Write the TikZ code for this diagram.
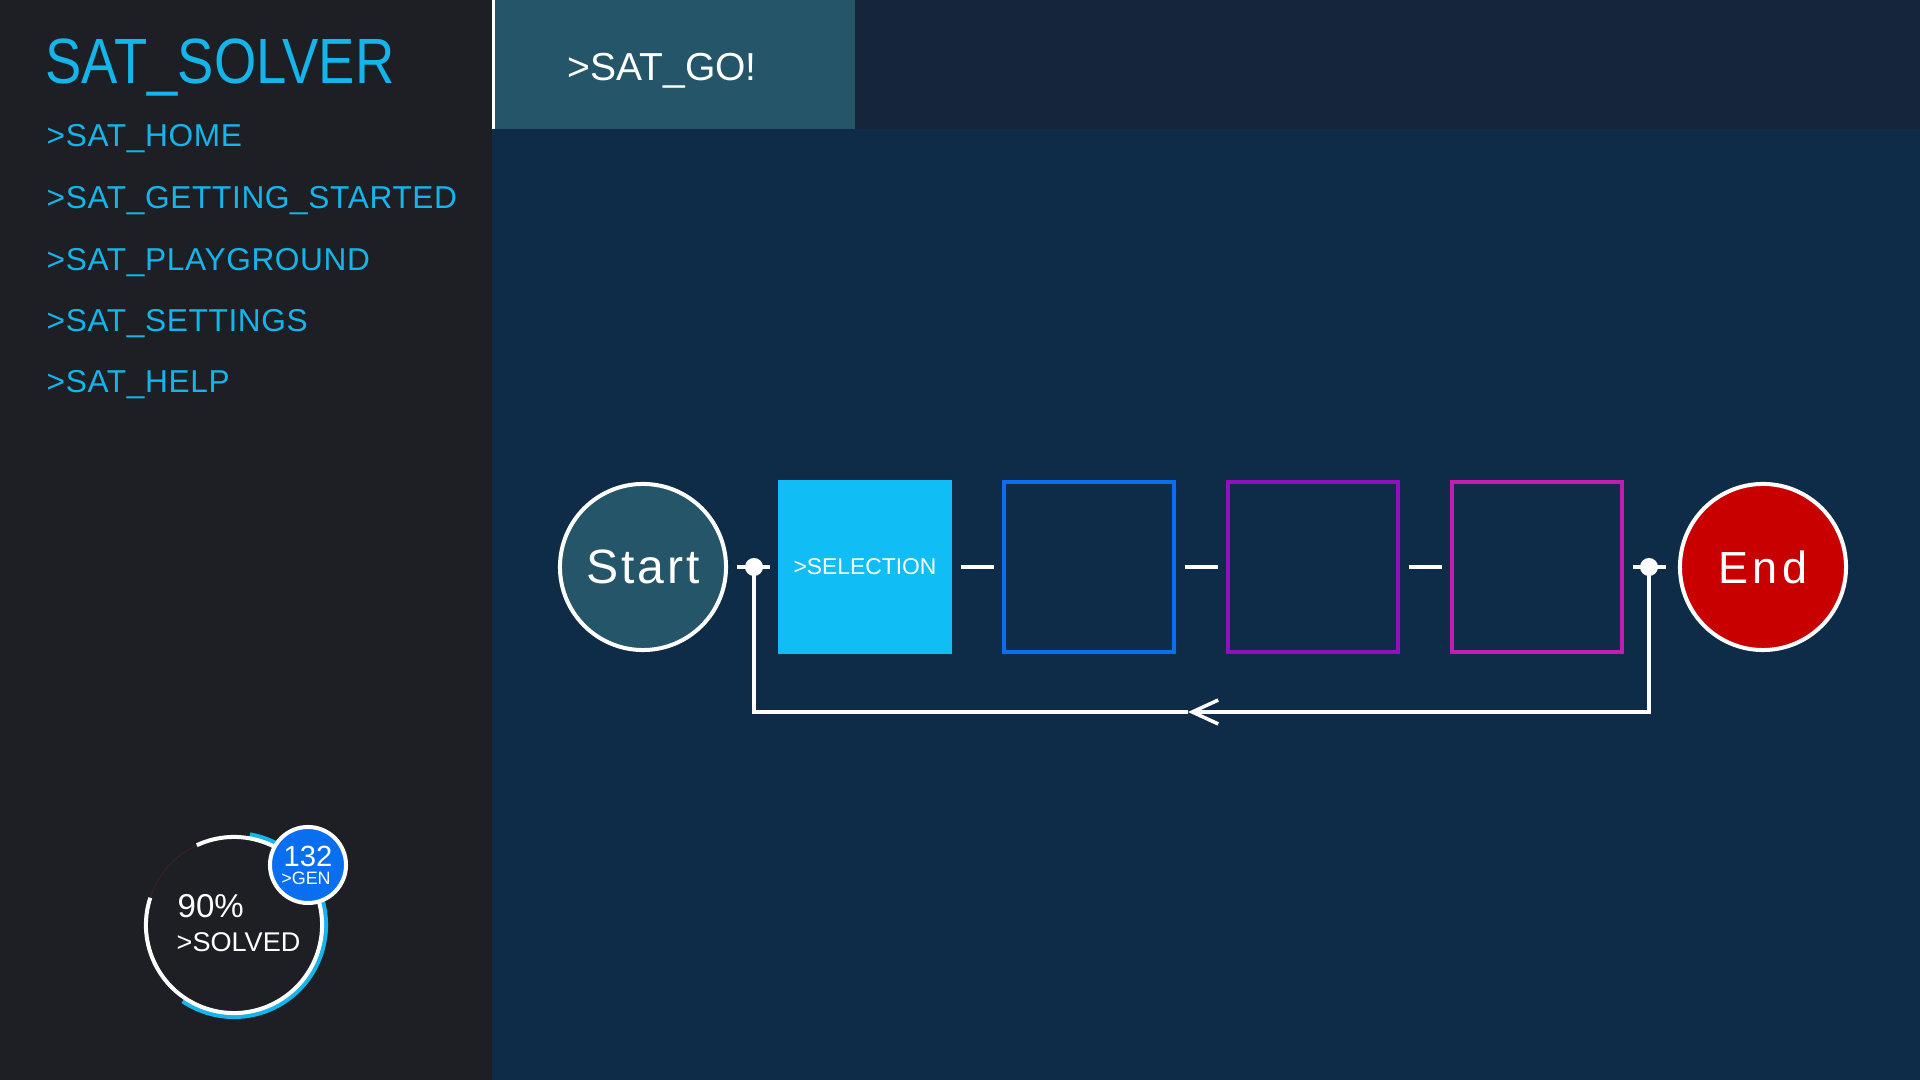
\documentclass[tikz,border=0pt]{standalone}
\usepackage{fontspec}
\setmainfont{Liberation Sans}
\usetikzlibrary{arrows.meta}
\definecolor{panel}{HTML}{1E1F24}
\definecolor{topbar}{HTML}{15263A}
\definecolor{tabfill}{HTML}{255569}
\definecolor{canvas}{HTML}{0E2C48}
\definecolor{satcyan}{HTML}{13B5EA}
\definecolor{selfill}{HTML}{10BDF5}
\definecolor{genblue}{HTML}{0A6EF0}
\definecolor{mutpurple}{HTML}{9010C0}
\definecolor{repmagenta}{HTML}{C21CB0}
\definecolor{endred}{HTML}{C80000}
\definecolor{gapline}{HTML}{3A2029}

\begin{document}
\begin{tikzpicture}[x=0.01cm, y=-0.01cm,
    menu/.style={anchor=base west, inner sep=0, text=satcyan,
      font=\fontsize{9}{9}\selectfont\addfontfeature{LetterSpace=2}},
    stage/.style={rectangle, draw=#1, line width=1.14pt, minimum size=1.7cm, inner sep=0},
    terminal/.style={circle, draw=white, line width=1.14pt, fill=#1, minimum size=1.66cm, inner sep=0, text=white},
    link/.style={draw=white, line width=1pt},
    junction/.style={circle, fill=white, minimum size=0.18cm, inner sep=0}]
            \useasboundingbox (0,0) rectangle (1920,1080);
            \fill[panel] (0,0) rectangle (492,1080);
            \fill[topbar] (492,0) rectangle (1920,129);
            \fill[canvas] (492,129) rectangle (1920,1080);
            \fill[tabfill] (492,0) rectangle (855,129);
            \fill[white] (492,0) rectangle (495,129);

            \node[anchor=base west, inner sep=0, text=satcyan, font=\fontsize{18.2}{18.2}\selectfont] (title) at (45,84) {\scalebox{0.85}[1]{SAT\_SOLVER}};
            \node[menu] (home) at (46,147) {>SAT\_HOME};
            \node[menu] (started) at (46,209) {>SAT\_GETTING\_STARTED};
            \node[menu] (playground) at (46,271) {>SAT\_PLAYGROUND};
            \node[menu] (settings) at (46,332) {>SAT\_SETTINGS};
            \node[menu] (help) at (46,393) {>SAT\_HELP};
            \node[anchor=base west, inner sep=0, text=white, font=\fontsize{11.1}{11.1}\selectfont] (go) at (567,81) {>SAT\_GO!};

            \coordinate (gauge) at (234,925);
            \draw[satcyan, line width=1.7pt] (gauge) ++(80:0.91cm) arc[start angle=80, end angle=-124, radius=0.91cm];
            \draw[gapline, line width=0.3pt] (gauge) ++(115:0.88cm) arc[start angle=115, end angle=162, radius=0.88cm];
            \draw[white, line width=1.14pt] (gauge) ++(162:0.88cm) arc[start angle=162, end angle=475, radius=0.88cm];
            \node[anchor=base west, inner sep=0, text=white, font=\fontsize{9.4}{9.4}\selectfont] (pct) at (177,918) {90\%};
            \node[anchor=base west, inner sep=0, text=white, font=\fontsize{7.7}{7.7}\selectfont] (solved) at (176,952) {>SOLVED};
            \node[circle, fill=genblue, draw=white, line width=1.14pt, minimum size=0.76cm, inner sep=0] (gen) at (308,865) {};
            \node[anchor=base, inner sep=0, text=white, font=\fontsize{8.3}{8.3}\selectfont] (gencount) at (308,867) {132};
            \node[anchor=base, inner sep=0, text=white, font=\fontsize{5.1}{5.1}\selectfont] (genlabel) at (306,885) {>GEN};

            \node[terminal=tabfill, font=\fontsize{13.7}{13.7}\selectfont\addfontfeature{LetterSpace=6}] (start) at (643,567) {Start};
            \node[rectangle, fill=selfill, minimum size=1.73cm, inner sep=0, text=white, font=\fontsize{6.5}{6.5}\selectfont] (sel) at (865,567) {>SELECTION};
            \node[stage=genblue] (cross) at (1089,567) {};
            \node[stage=mutpurple] (mutate) at (1313,567) {};
            \node[stage=repmagenta] (replace) at (1537,567) {};
            \node[terminal=endred, font=\fontsize{12.8}{12.8}\selectfont\addfontfeature{LetterSpace=9}] (finish) at (1763,567) {End};

            \draw[link, shorten <=0.09cm, shorten >=0.08cm] (start) -- (sel);
            \draw[link, shorten <=0.09cm, shorten >=0.08cm] (sel) -- (cross);
            \draw[link, shorten <=0.09cm, shorten >=0.08cm] (cross) -- (mutate);
            \draw[link, shorten <=0.09cm, shorten >=0.08cm] (mutate) -- (replace);
            \draw[link, shorten <=0.09cm, shorten >=0.12cm] (replace) -- (finish);
            \node[junction] (j1) at (754,567) {};
            \node[junction] (j2) at (1649,567) {};
            \coordinate (back) at (1188,712);
            \draw[link, -{Straight Barb[length=7.4pt, width=6.8pt]}] (j2.center) |- (back);
            \draw[link] (back) -| (j1.center);
        \end{tikzpicture}
\end{document}
